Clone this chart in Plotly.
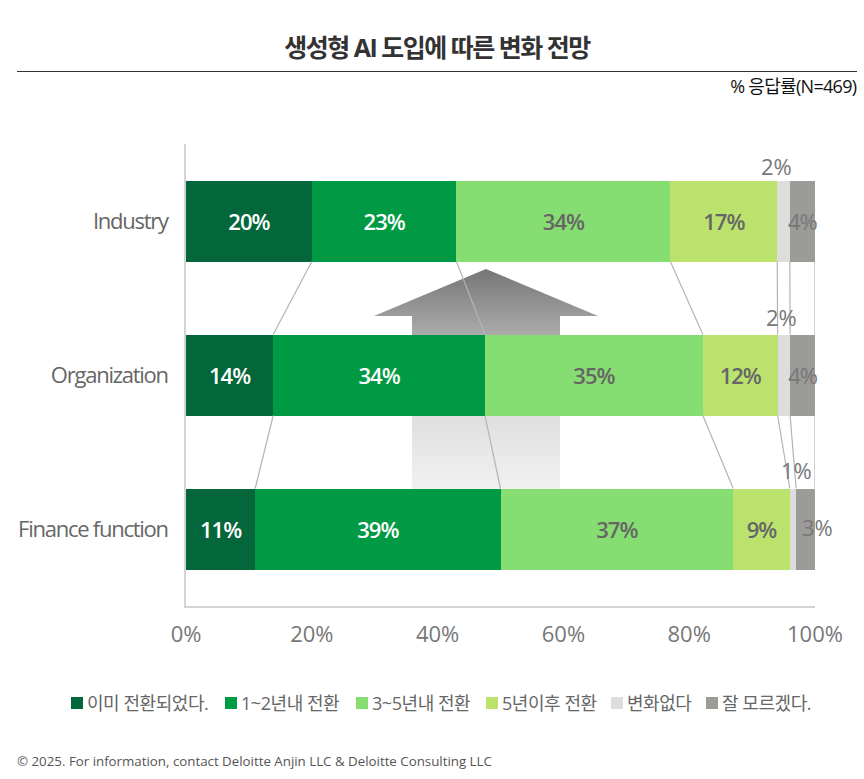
import plotly.graph_objects as go

categories = ["Finance function", "Organization", "Industry"]
series_names = ["이미 전환되었다.", "1~2년내 전환", "3~5년내 전환", "5년이후 전환", "변화없다", "잘 모르겠다."]
already = [11, 14, 20]
y1_2 = [39, 34, 23]
y3_5 = [37, 35, 34]
y5_plus = [9, 12, 17]
no_change = [1, 2, 2]
unknown = [3, 4, 4]
series_values = [already, y1_2, y3_5, y5_plus, no_change, unknown]
colors = ["#04673B", "#009A44", "#86DD72", "#BCE26E", "#DDDDDD", "#9B9B98"]
label_colors = ["#FFFFFF", "#FFFFFF", "#666666", "#666666", "#777777", "#777777"]
tick_values = [0, 20, 40, 60, 80, 100]
tick_labels = ["0%", "20%", "40%", "60%", "80%", "100%"]

FONT = "'Open Sans', 'Noto Sans CJK KR', sans-serif"
W, H = 864, 779
L, R, T, B = 186, 815, 144, 606
BAR_FRAC = 81 / 154
ypos = list(range(len(categories)))


def px_x(p):
    return (p - L) / (R - L) * 100


def px_y(p):
    return 2.5 - (p - T) / (B - T) * 3


def paper_x(p):
    return (p - L) / (R - L)


def paper_y(p):
    return (B - p) / (B - T)


fig = go.Figure()

# Background arrow (decoration), split around the middle bar
up_x = [374, 486, 598, 560, 560, 412, 412, 374]
up_y = [316, 269, 316, 316, 335, 335, 316, 316]
fig.add_trace(go.Scatter(
    x=[px_x(v) for v in up_x], y=[px_y(v) for v in up_y], mode="lines", fill="toself",
    line=dict(width=0), showlegend=False, hoverinfo="skip",
    fillgradient=dict(type="vertical",
                      colorscale=[[0, "#ABABAB"], [1, "#767676"]]),
))
dn_x = [412, 560, 560, 412, 412]
dn_y = [416, 416, 489, 489, 416]
fig.add_trace(go.Scatter(
    x=[px_x(v) for v in dn_x], y=[px_y(v) for v in dn_y], mode="lines", fill="toself",
    line=dict(width=0), showlegend=False, hoverinfo="skip",
    fillgradient=dict(type="vertical",
                      colorscale=[[0, "#F1F1F1"], [1, "#DFDFDF"]]),
))

for name, vals, col, lc in zip(series_names, series_values, colors, label_colors):
    is_small = vals is no_change
    is_unknown = vals is unknown
    light = is_unknown or is_small
    # The Finance "unknown" label sits off-centre in the reference; it is an annotation below
    labels = [("" if is_unknown and i == 0 else f"{v}%") for i, v in enumerate(vals)]
    fig.add_trace(go.Bar(
        y=ypos, x=vals, name=name, orientation="h",
        marker=dict(color=col, line=dict(width=0)),
        text=labels,
        textposition="none" if is_small else "inside",
        insidetextanchor="middle", textangle=0, constraintext="none",
        insidetextfont=dict(family=FONT, size=22, color=lc, weight=400 if light else 600),
        cliponaxis=False,
    ))

# Normalised cumulative boundaries per row
totals = [sum(s[i] for s in series_values) for i in ypos]
cums = []
for i in ypos:
    run, row = 0, []
    for s in series_values:
        run += s[i]
        row.append(run / totals[i] * 100)
    cums.append(row)

# Connector lines between adjacent bars
half = BAR_FRAC / 2
for k in range(len(series_values)):
    xs, ys = [], []
    for i in range(len(ypos) - 1):
        xs += [cums[i][k], cums[i + 1][k], None]
        ys += [i + half, i + 1 - half, None]
    fig.add_trace(go.Scatter(x=xs, y=ys, mode="lines", showlegend=False, hoverinfo="skip",
                             line=dict(color="#B4B4B4", width=1.2), cliponaxis=False))

# Labels of the narrow "no change" segment, above the bars
x_shifts = [4, -2, -7]
y_shifts = [19, 18, 15]
annos = []
for i in ypos:
    center = (cums[i][3] + cums[i][4]) / 2
    annos.append(dict(x=center, y=i + half, xref="x", yref="y", text=f"{no_change[i]}%",
                      showarrow=False, xanchor="center", yanchor="middle",
                      xshift=x_shifts[i], yshift=y_shifts[i],
                      font=dict(family=FONT, size=22, color="#777777")))
annos.append(dict(x=(cums[0][4] + cums[0][5]) / 2, y=0, xref="x", yref="y", text=f"{unknown[0]}%",
                  showarrow=False, xanchor="center", yanchor="middle", xshift=12, yshift=2,
                  font=dict(family=FONT, size=22, color="#777777")))

annos += [
    dict(x=paper_x(437), y=paper_y(47), xref="paper", yref="paper",
         text="<b>생성형 AI 도입에 따른 변화 전망</b>",
         showarrow=False, xanchor="center", yanchor="middle",
         font=dict(family=FONT, size=25, color="#333333")),
    dict(x=paper_x(857), y=paper_y(86), xref="paper", yref="paper", text="% 응답률(N=469)",
         showarrow=False, xanchor="right", yanchor="middle", xshift=6,
         font=dict(family=FONT, size=18, color="#111111")),
    dict(x=paper_x(17), y=paper_y(761), xref="paper", yref="paper",
         text="© 2025. For information, contact Deloitte Anjin LLC &amp; Deloitte Consulting LLC",
         showarrow=False, xanchor="left", yanchor="middle", xshift=-2,
         font=dict(family=FONT, size=13.3, color="#555555")),
]

fig.update_layout(
    width=W, height=H, autosize=False,
    margin=dict(l=L, r=W - R, t=T, b=H - B, pad=0, autoexpand=False),
    paper_bgcolor="white", plot_bgcolor="white",
    barmode="stack", barnorm="percent", bargap=1 - BAR_FRAC,
    font=dict(family=FONT, color="#666666"),
    annotations=annos,
    shapes=[dict(type="line", xref="paper", yref="paper", x0=paper_x(17), x1=paper_x(857),
                 y0=paper_y(71.5), y1=paper_y(71.5), line=dict(color="#333333", width=1))],
    legend=dict(orientation="h", x=0, xref="container", xanchor="left",
                y=1 - 703 / H, yref="container", yanchor="middle", traceorder="normal",
                entrywidth=130, entrywidthmode="pixels",
                font=dict(family=FONT, size=18, color="#666666"), itemclick=False),
    xaxis=dict(range=[0, 100], tickvals=tick_values, ticktext=tick_labels, showgrid=False,
               zeroline=False, showline=True, linecolor="#D4D4D4", linewidth=1.5,
               ticks="", ticklabelstandoff=8,
               tickfont=dict(family=FONT, size=22, color="#777777")),
    yaxis=dict(range=[-0.5, 2.5], tickvals=ypos, ticktext=categories, showgrid=False,
               zeroline=False, showline=True, linecolor="#D4D4D4", linewidth=1.5,
               ticks="", ticklabelstandoff=12,
               tickfont=dict(family=FONT, size=22, color="#666666")),
)

post = """
document.body.style.margin='0';
const gd = document.getElementById('{plot_id}');
const track = (sel, v) => gd.querySelectorAll(sel).forEach(t => t.style.letterSpacing = v);
track('.ytick text', '-1.25px');
track('.bartext', '-1px');
track('.legendtext', '-0.45px');
gd.querySelectorAll('.annotation-text').forEach(t => {
  if (t.textContent.includes('생성형')) t.style.letterSpacing = '-1.5px';
  if (t.textContent.includes('응답률')) t.style.letterSpacing = '-0.7px';
});
const centers = [77, 231, 362, 492, 617, 712];
const lg = gd.querySelector('.legend');
lg.setAttribute('transform', 'translate(0,703)');
lg.querySelectorAll('.scrollbox').forEach(s => s.removeAttribute('clip-path'));
lg.querySelectorAll('.bg').forEach(s => s.style.display = 'none');
lg.querySelectorAll('.traces').forEach((g, i) => {
  g.setAttribute('transform', 'translate(' + (centers[i] - 20) + ',0)');
  const txt = g.querySelector('.legendtext');
  if (txt) txt.setAttribute('x', 30);
});
"""
fig.write_html("out.html", post_script=post, config={"displayModeBar": False})
